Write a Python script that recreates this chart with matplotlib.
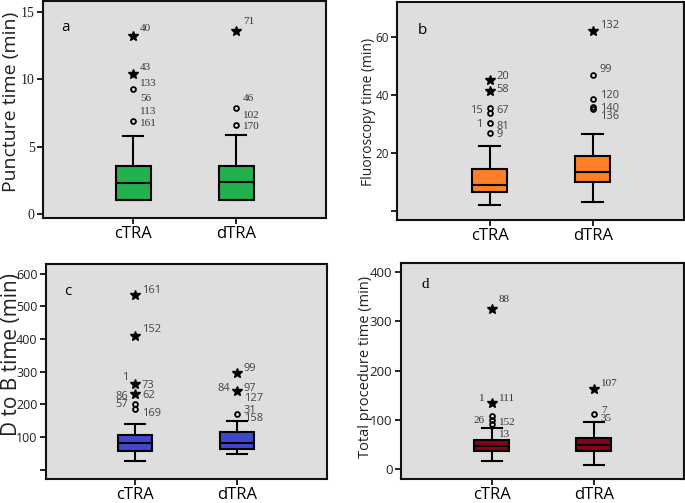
import matplotlib.pyplot as plt

groups = ["cTRA", "dTRA"]

# (a) puncture time
punct_q1 = [1.1, 1.1]
punct_med = [2.35, 2.4]
punct_q3 = [3.55, 3.55]
punct_lo = [1.1, 1.1]
punct_hi = [5.8, 5.85]
punct_out = [(0, 13.2, "*"), (0, 10.4, "*"), (0, 9.26, "o"), (0, 6.9, "o"),
             (1, 13.6, "*"), (1, 7.9, "o"), (1, 6.6, "o")]
punct_lab = [(0, 13.78, "40", "r"), (0, 10.9, "43", "r"), (0, 9.68, "133", "r"),
             (0, 8.59, "56", "r"), (0, 7.6, "113", "r"), (0, 6.74, "161", "r"),
             (1, 14.3, "71", "r"), (1, 8.59, "46", "r"), (1, 7.33, "102", "r"),
             (1, 6.49, "170", "r")]

# (b) fluoroscopy time
fluoro_q1 = [6.3, 9.9]
fluoro_med = [8.9, 13.3]
fluoro_q3 = [14.3, 18.9]
fluoro_lo = [2.1, 2.9]
fluoro_hi = [22.5, 26.6]
fluoro_out = [(0, 45.2, "*"), (0, 41.5, "*"), (0, 35.6, "o"), (0, 33.7, "o"),
              (0, 30.3, "o"), (0, 26.8, "o"),
              (1, 62.3, "*"), (1, 46.9, "o"), (1, 38.8, "o"), (1, 36.0, "o"),
              (1, 35.1, "o")]
fluoro_lab = [(0, 46.6, "20", "r"), (0, 41.8, "58", "r"), (0, 34.8, "15", "l"),
              (0, 34.8, "67", "r"), (0, 30.0, "1", "l"), (0, 29.1, "81", "r"),
              (0, 26.2, "9", "r"),
              (1, 64.0, "132", "r"), (1, 49.0, "99", "r"), (1, 40.0, "120", "r"),
              (1, 35.4, "140", "r"), (1, 32.5, "136", "r")]

# (c) door to balloon time
d2b_q1 = [56, 63]
d2b_med = [80, 82]
d2b_q3 = [107, 114]
d2b_lo = [26, 49]
d2b_hi = [141, 148]
d2b_out = [(0, 536, "*"), (0, 410, "*"), (0, 263, "*"), (0, 233, "*"),
           (0, 201, "o"), (0, 186, "o"),
           (1, 296, "*"), (1, 240, "*"), (1, 169, "o")]
d2b_lab = [(0, 548, "161", "r"), (0, 429, "152", "r"), (0, 281, "1", "l"),
           (0, 258, "73", "r"), (0, 224, "86", "l"), (0, 228, "62", "r"),
           (0, 199, "57", "l"), (0, 173, "169", "r"),
           (1, 309, "99", "r"), (1, 247, "84", "l"), (1, 247, "97", "r"),
           (1, 217, "127", "r"), (1, 182, "31", "r"), (1, 155, "158", "r")]

# (d) total procedure time
total_q1 = [38, 38]
total_med = [47, 49]
total_q3 = [59, 63]
total_lo = [17.5, 9.4]
total_hi = [83, 96]
total_out = [(0, 324, "*"), (0, 135, "*"), (0, 108, "o"), (0, 100, "o"),
             (0, 93, "o"), (1, 162, "*"), (1, 113, "o")]
total_lab = [(0, 344, "88", "r"), (0, 143, "1", "l"), (0, 143, "111", "r"),
             (0, 100, "26", "l"), (0, 96, "152", "r"), (0, 71, "13", "r"),
             (1, 175, "107", "r"), (1, 120, "7", "r"), (1, 103, "35", "r")]

SANS = "Open Sans"
SERIF = "Liberation Serif"


def draw_panel(ax, q1, med, q3, lo, hi, outs, labs, color, ylim, yticks,
               yticklabels, ylabel, ylabel_size, tick_font, tick_size,
               lab_font, lab_color, letter, letter_font, xlim):
    stats = []
    for i in range(len(groups)):
        stats.append(dict(med=med[i], q1=q1[i], q3=q3[i], whislo=lo[i],
                          whishi=hi[i], fliers=[]))
    ax.bxp(stats, positions=[1, 2], widths=0.34, patch_artist=True,
           showfliers=False, capwidths=0.2,
           boxprops=dict(facecolor=color, edgecolor="black", linewidth=1.5),
           medianprops=dict(color="black", linewidth=1.5),
           whiskerprops=dict(color="black", linewidth=1.5),
           capprops=dict(color="black", linewidth=1.5))
    for g, v, m in outs:
        if m == "*":
            ax.plot(g + 1, v, marker="*", color="black", markersize=7,
                    linestyle="none")
        else:
            ax.plot(g + 1, v, marker="o", markerfacecolor="none",
                    markeredgecolor="black", markersize=3.5,
                    markeredgewidth=1.3, linestyle="none")
    for g, y, t, side in labs:
        dx = 5 if side == "r" else -5
        ax.annotate(t, xy=(g + 1, y), xytext=(dx, 0), textcoords="offset points",
                    ha="left" if side == "r" else "right", va="center",
                    fontsize=8, family=lab_font, color=lab_color)
    ax.set_facecolor("#dedede")
    ax.set_xlim(*xlim)
    ax.set_ylim(*ylim)
    ax.set_xticks([1, 2])
    ax.set_xticklabels(groups, fontsize=12, family=SANS)
    ax.set_yticks(yticks)
    ax.set_yticklabels(yticklabels, fontsize=tick_size, family=tick_font,
                       color="#222222")
    ax.tick_params(direction="out", length=4, width=1.2, pad=2)
    ax.set_ylabel(ylabel, fontsize=ylabel_size, family=SANS, color="#222222")
    for s in ax.spines.values():
        s.set_linewidth(1.5)
        s.set_color("#111111")
    ax.text(letter[1], letter[2], letter[0], transform=ax.transAxes,
            fontsize=11, family=letter_font, ha="center", va="center")


fig = plt.figure(figsize=(6.85, 5.03), dpi=100)

ax_a = fig.add_axes([0.063, 0.567, 0.413, 0.431])
draw_panel(ax_a, punct_q1, punct_med, punct_q3, punct_lo, punct_hi,
           punct_out, punct_lab, "#22b14c", (-0.25, 15.8), [0, 5, 10, 15],
           ["0", "5", "10", "15"], "Puncture time (min)", 14, SERIF, 10,
           SERIF, "#333333", ("a", 0.078, 0.88), SANS, (0.126, 2.874))
ax_a.yaxis.set_label_coords(-0.082, 0.535)

ax_b = fig.add_axes([0.580, 0.563, 0.418, 0.433])
draw_panel(ax_b, fluoro_q1, fluoro_med, fluoro_q3, fluoro_lo, fluoro_hi,
           fluoro_out, fluoro_lab, "#ff7f27", (-3.2, 72.3), [0, 20, 40, 60],
           ["", "20", "40", "60"], "Fluoroscopy time (min)", 10, SANS, 8.5,
           SANS, "#444444", ("b", 0.087, 0.87), SANS, (0.107, 2.88))
ax_b.yaxis.set_label_coords(-0.075, 0.495)

ax_c = fig.add_axes([0.067, 0.048, 0.410, 0.427])
draw_panel(ax_c, d2b_q1, d2b_med, d2b_q3, d2b_lo, d2b_hi,
           d2b_out, d2b_lab, "#3f48cc", (-28.6, 630), [0, 100, 200, 300, 400, 500, 600],
           ["", "100", "200", "300", "400", "500", "600"], "D to B time (min)",
           15, SANS, 9, SANS, "#444444", ("c", 0.078, 0.87), SANS, (0.127, 2.88))
ax_c.yaxis.set_label_coords(-0.085, 0.577)

ax_d = fig.add_axes([0.585, 0.048, 0.413, 0.429])
draw_panel(ax_d, total_q1, total_med, total_q3, total_lo, total_hi,
           total_out, total_lab, "#880015", (-19, 418), [0, 100, 200, 300, 400],
           ["0", "100", "200", "300", "400"], "Total procedure time (min)",
           10.5, SANS, 9.5, SERIF, "#333333", ("d", 0.088, 0.90), SERIF, (0.108, 2.88))
ax_d.yaxis.set_label_coords(-0.098, 0.518)

fig.savefig("out.png", dpi=100)
